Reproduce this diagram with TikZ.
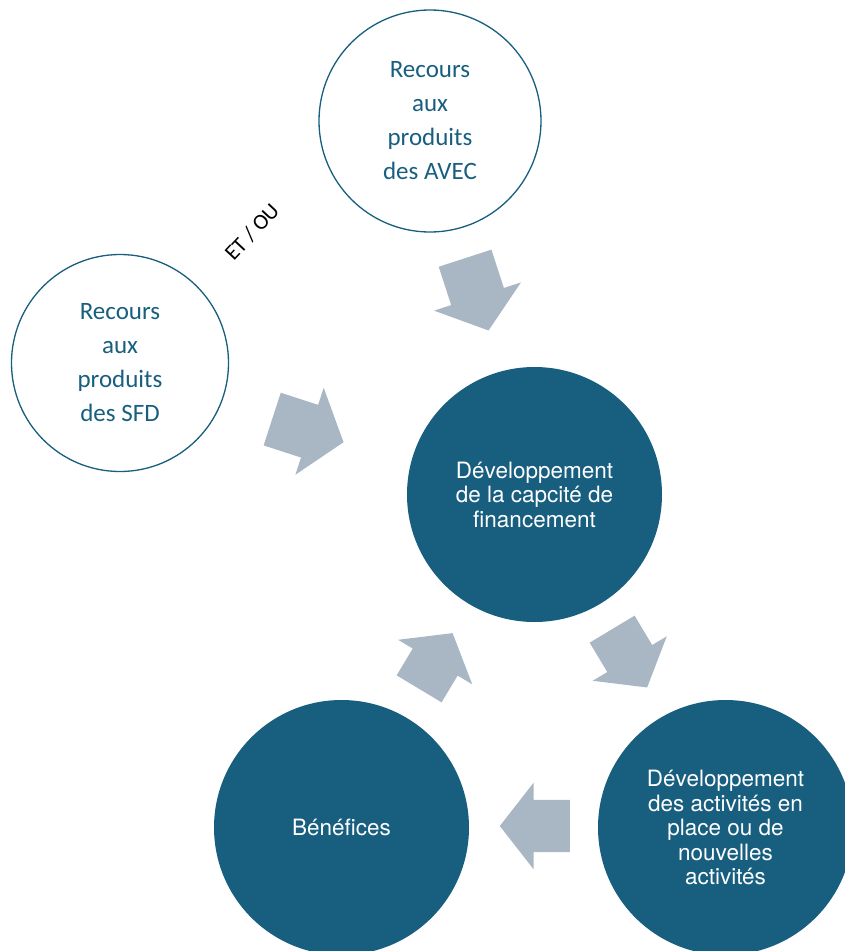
\documentclass[tikz,border=0pt]{standalone}
\usepackage{fontspec}
\setmainfont{Carlito}
\newfontfamily\heros{TeX Gyre Heros}
\usetikzlibrary{shapes.arrows, positioning}
\definecolor{petrol}{HTML}{175E7F}
\definecolor{greyblue}{HTML}{A9B6C3}
\tikzset{source/.style = {circle, draw=petrol, line width=1.3pt, text=petrol, align=center,
                          font=\fontsize{25}{34}\selectfont},
         stage/.style = {circle, fill=petrol, text=white, align=center, minimum size=255pt,
                         font=\heros\fontsize{22.5}{24.5}\selectfont},
         blockarrow/.style = {single arrow, fill=greyblue, anchor=tail, inner xsep=0pt, inner ysep=26pt,
                              single arrow head extend=17pt, single arrow tip angle=104}}

\begin{document}
\begin{tikzpicture}[x=1pt, y=-1pt]
    \useasboundingbox (0,0) rectangle (845,951);
    \clip (0,0) rectangle (845,951);

    \node[source, minimum size=222pt] (avec) at (430,121) {Recours\\aux\\produits\\des AVEC};
    \node[source, minimum size=217pt] (sfd) at (120,363) {Recours\\aux\\produits\\des SFD};
    \node[stage] (fin) at (534.5,494.5) {Développement\\de la capcité de\\financement};
    \node[stage] (act) at (725.5,827.5) {Développement\\des activités en\\place ou de\\nouvelles\\activités};
    \node[stage] (ben) at (341.5,827.5) {Bénéfices};

    \node[rotate=47, font=\fontsize{22}{24}\selectfont] (etou) at (252,232) {ET / OU};

    \node[blockarrow, inner ysep=27.5pt, single arrow head extend=18pt, minimum height=76pt,
          rotate=-72] (avecfin) at (465,258) {};
    \node[blockarrow, inner ysep=27.5pt, single arrow head extend=18pt, minimum height=75pt,
          rotate=-18] (sfdfin) at (272,419) {};
    \node[blockarrow, minimum height=68pt, rotate=-59] (finact) at (612,629) {};
    \node[blockarrow, minimum height=70pt, rotate=180] (actben) at (570,826) {};
    \node[blockarrow, minimum height=65pt, rotate=59] (benfin) at (419,689) {};
\end{tikzpicture}
\end{document}
